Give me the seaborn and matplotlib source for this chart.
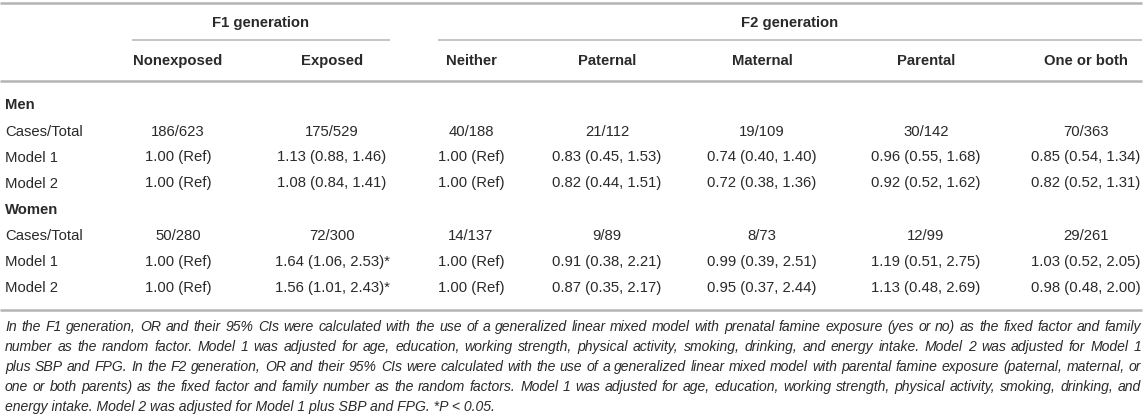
import matplotlib
matplotlib.use("Agg")
import matplotlib.pyplot as plt
import seaborn as sns

# table content
groups = ["F1 generation", "F2 generation"]
columns = ["Nonexposed", "Exposed", "Neither", "Paternal", "Maternal", "Parental", "One or both"]
row_labels = ["Cases/Total", "Model 1", "Model 2"]

men_cases = ["186/623", "175/529", "40/188", "21/112", "19/109", "30/142", "70/363"]
men_model1 = ["1.00 (Ref)", "1.13 (0.88, 1.46)", "1.00 (Ref)", "0.83 (0.45, 1.53)",
              "0.74 (0.40, 1.40)", "0.96 (0.55, 1.68)", "0.85 (0.54, 1.34)"]
men_model2 = ["1.00 (Ref)", "1.08 (0.84, 1.41)", "1.00 (Ref)", "0.82 (0.44, 1.51)",
              "0.72 (0.38, 1.36)", "0.92 (0.52, 1.62)", "0.82 (0.52, 1.31)"]

women_cases = ["50/280", "72/300", "14/137", "9/89", "8/73", "12/99", "29/261"]
women_model1 = ["1.00 (Ref)", "1.64 (1.06, 2.53)*", "1.00 (Ref)", "0.91 (0.38, 2.21)",
                "0.99 (0.39, 2.51)", "1.19 (0.51, 2.75)", "1.03 (0.52, 2.05)"]
women_model2 = ["1.00 (Ref)", "1.56 (1.01, 2.43)*", "1.00 (Ref)", "0.87 (0.35, 2.17)",
                "0.95 (0.37, 2.44)", "1.13 (0.48, 2.69)", "0.98 (0.48, 2.00)"]

footnote = [
    "In the F1 generation, OR and their 95% CIs were calculated with the use of a generalized linear mixed model with prenatal famine exposure (yes or no) as the fixed factor and family",
    "number as the random factor. Model 1 was adjusted for age, education, working strength, physical activity, smoking, drinking, and energy intake. Model 2 was adjusted for Model 1",
    "plus SBP and FPG. In the F2 generation, OR and their 95% CIs were calculated with the use of a generalized linear mixed model with parental famine exposure (paternal, maternal, or",
    "one or both parents) as the fixed factor and family number as the random factors. Model 1 was adjusted for age, education, working strength, physical activity, smoking, drinking, and",
    "energy intake. Model 2 was adjusted for Model 1 plus SBP and FPG. *P < 0.05.",
]

sections = [("Men", [men_cases, men_model1, men_model2]),
            ("Women", [women_cases, women_model1, women_model2])]

sns.set_theme(style="white")
plt.rcParams["font.family"] = ["Liberation Sans", "DejaVu Sans"]

TXT = "#2a2a2a"
LINE = "#b4b4b4"
FS = 10.7

fig = plt.figure(figsize=(11.47, 4.20), dpi=100)
ax = fig.add_axes([0, 0, 1, 1])
ax.set_xlim(0, 1147)
ax.set_ylim(420, 0)
ax.axis("off")

col_x = [178, 332, 471, 607, 762, 926, 1086]
group_span = [(132, 390), (438, 1142)]

# rules
ax.plot([0, 1142], [3, 3], color=LINE, lw=1.8, solid_capstyle="butt")
for (x0, x1), g in zip(group_span, groups):
    ax.plot([x0, x1], [40, 40], color=LINE, lw=1.1, solid_capstyle="butt")
    ax.text((x0 + x1) / 2, 23, g, ha="center", va="center", fontsize=FS,
            fontweight="bold", color=TXT)
for x, c in zip(col_x, columns):
    ax.text(x, 61, c, ha="center", va="center", fontsize=FS, fontweight="bold", color=TXT)
ax.plot([0, 1142], [81, 81], color=LINE, lw=1.8, solid_capstyle="butt")

y = 105
for name, rows in sections:
    ax.text(5, y, name, ha="left", va="center", fontsize=FS, fontweight="bold", color=TXT)
    y += 26.5
    for lab, vals in zip(row_labels, rows):
        ax.text(5, y, lab, ha="left", va="center", fontsize=FS, color=TXT)
        for x, v in zip(col_x, vals):
            ax.text(x, y, v, ha="center", va="center", fontsize=FS, color=TXT)
        y += 26

ax.plot([0, 1142], [310, 310], color=LINE, lw=1.8, solid_capstyle="butt")

# justified italic footnote, size chosen so the widest line just fits
renderer = fig.canvas.get_renderer()
left, right = 5, 1141
probe = 10.0
widest = 0
for line in footnote[:-1]:
    t = ax.text(0, 0, line, fontsize=probe, style="italic")
    widest = max(widest, t.get_window_extent(renderer).width)
    t.remove()
FN = probe * (right - left - 2) / widest

for i, line in enumerate(footnote):
    yy = 327 + i * 20
    words = line.split(" ")
    if i == len(footnote) - 1:
        ax.text(left, yy, line, ha="left", va="center", fontsize=FN, style="italic", color=TXT)
        continue
    items = [ax.text(0, yy, w, ha="left", va="center", fontsize=FN, style="italic", color=TXT)
             for w in words]
    widths = [t.get_window_extent(renderer).width for t in items]
    gap = (right - left - sum(widths)) / (len(words) - 1)
    xx = left
    for t, w in zip(items, widths):
        t.set_x(xx)
        xx += w + gap

fig.savefig("out.png", dpi=100)
